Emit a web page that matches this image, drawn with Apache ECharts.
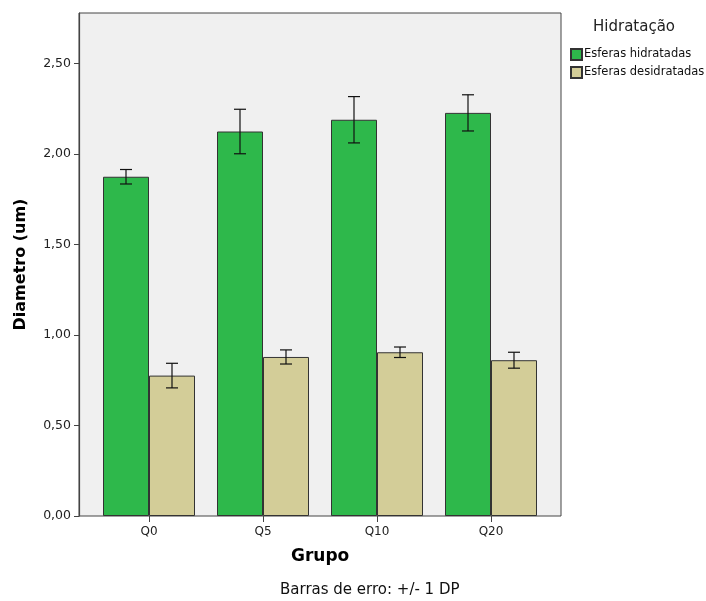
<!DOCTYPE html>
<html><head><meta charset="utf-8">
<script src="https://cdn.jsdelivr.net/npm/echarts@6/dist/echarts.min.js"></script>
<style>html,body{margin:0;padding:0;background:#fff}#c{width:706px;height:601px}</style>
</head><body><div id="c"></div>
<script>
const categories = ['Q0', 'Q5', 'Q10', 'Q20'];
const hidratadas = [1.875, 2.125, 2.19, 2.228];
const hidratadasDP = [0.04, 0.123, 0.128, 0.10];
const desidratadas = [0.776, 0.879, 0.905, 0.861];
const desidratadasDP = [0.068, 0.039, 0.029, 0.044];
const seriesNames = ['Esferas hidratadas', 'Esferas desidratadas'];

const FONT = 'DejaVu Sans';
const BAR_W = 46;
const YMAX = 2.78;

function errData(means, sds) {
  return means.map((m, i) => [i, m - sds[i], m + sds[i]]);
}
function errRender(offset) {
  return function (params, api) {
    const i = api.value(0);
    const lo = api.coord([i, api.value(1)]);
    const hi = api.coord([i, api.value(2)]);
    const x = lo[0] + offset;
    const cap = 6;
    const st = { stroke: '#111', lineWidth: 1.2 };
    return {
      type: 'group',
      children: [
        { type: 'line', shape: { x1: x, y1: lo[1], x2: x, y2: hi[1] }, style: st },
        { type: 'line', shape: { x1: x - cap, y1: lo[1], x2: x + cap, y2: lo[1] }, style: st },
        { type: 'line', shape: { x1: x - cap, y1: hi[1], x2: x + cap, y2: hi[1] }, style: st }
      ]
    };
  };
}
const fmt = v => v.toFixed(2).replace('.', ',');

const chart = echarts.init(document.getElementById('c'), null, { renderer: 'canvas' });
chart.setOption({
  animation: false,
  textStyle: { fontFamily: FONT },
  grid: [
    { left: 79, right: 145, top: 13, bottom: 85, show: true, backgroundColor: '#f0f0f0', borderColor: '#444', borderWidth: 1 },
    { left: 92, right: 158, top: 13, bottom: 85 }
  ],
  xAxis: [
    { type: 'value', gridIndex: 0, min: 0, max: 1, show: false },
    {
      type: 'category', gridIndex: 1, data: categories,
      axisLine: { show: false },
      axisTick: { show: true, alignWithLabel: true, length: 6, lineStyle: { color: '#444' } },
      axisLabel: { color: '#222', fontSize: 12, fontFamily: FONT, margin: 10 }
    }
  ],
  yAxis: [
    {
      type: 'value', gridIndex: 0, min: 0, max: YMAX, interval: 0.5,
      name: 'Diametro (um)', nameLocation: 'middle', nameGap: 50,
      nameTextStyle: { fontFamily: FONT, fontSize: 16, fontWeight: 'bold', color: '#000' },
      axisLine: { show: true, lineStyle: { color: '#444', width: 1.2 } },
      axisTick: { show: true, length: 5, lineStyle: { color: '#444' } },
      axisLabel: { color: '#222', fontSize: 12.5, fontFamily: FONT, margin: 8, formatter: fmt,
        showMaxLabel: false },
      splitLine: { show: false }
    },
    { type: 'value', gridIndex: 1, min: 0, max: YMAX, interval: 0.5, show: false }
  ],
  legend: {
    orient: 'vertical', left: 565, top: 43, itemWidth: 11, itemHeight: 11, itemGap: 5,
    icon: 'rect',
    textStyle: { fontFamily: FONT, fontSize: 11.5, color: '#111', padding: [0, 0, 0, -3] },
    data: seriesNames
  },
  graphic: [
    { type: 'text', left: 593, top: 20, style: { text: 'Hidratação', fontFamily: FONT, fontSize: 15, fill: '#222' } },
    { type: 'text', left: 291, top: 548, style: { text: 'Grupo', fontFamily: FONT, fontSize: 17, fontWeight: 'bold', fill: '#000' } },
    { type: 'text', top: 583, left: 280, style: { text: 'Barras de erro: +/- 1 DP', fontFamily: FONT, fontSize: 15, fill: '#111' } }
  ],
  series: [
    {
      name: seriesNames[0], type: 'bar', xAxisIndex: 1, yAxisIndex: 1, data: hidratadas,
      barWidth: BAR_W, barGap: '0%',
      itemStyle: { color: '#2eb84b', borderColor: '#333', borderWidth: 1 }
    },
    {
      name: seriesNames[1], type: 'bar', xAxisIndex: 1, yAxisIndex: 1, data: desidratadas,
      barWidth: BAR_W, barGap: '0%',
      itemStyle: { color: '#d3cd98', borderColor: '#333', borderWidth: 1 }
    },
    {
      type: 'custom', xAxisIndex: 1, yAxisIndex: 1, data: errData(hidratadas, hidratadasDP),
      renderItem: errRender(-BAR_W / 2), encode: { x: 0, y: [1, 2] }, z: 5, silent: true
    },
    {
      type: 'custom', xAxisIndex: 1, yAxisIndex: 1, data: errData(desidratadas, desidratadasDP),
      renderItem: errRender(BAR_W / 2), encode: { x: 0, y: [1, 2] }, z: 5, silent: true
    }
  ]
});
</script></body></html>
